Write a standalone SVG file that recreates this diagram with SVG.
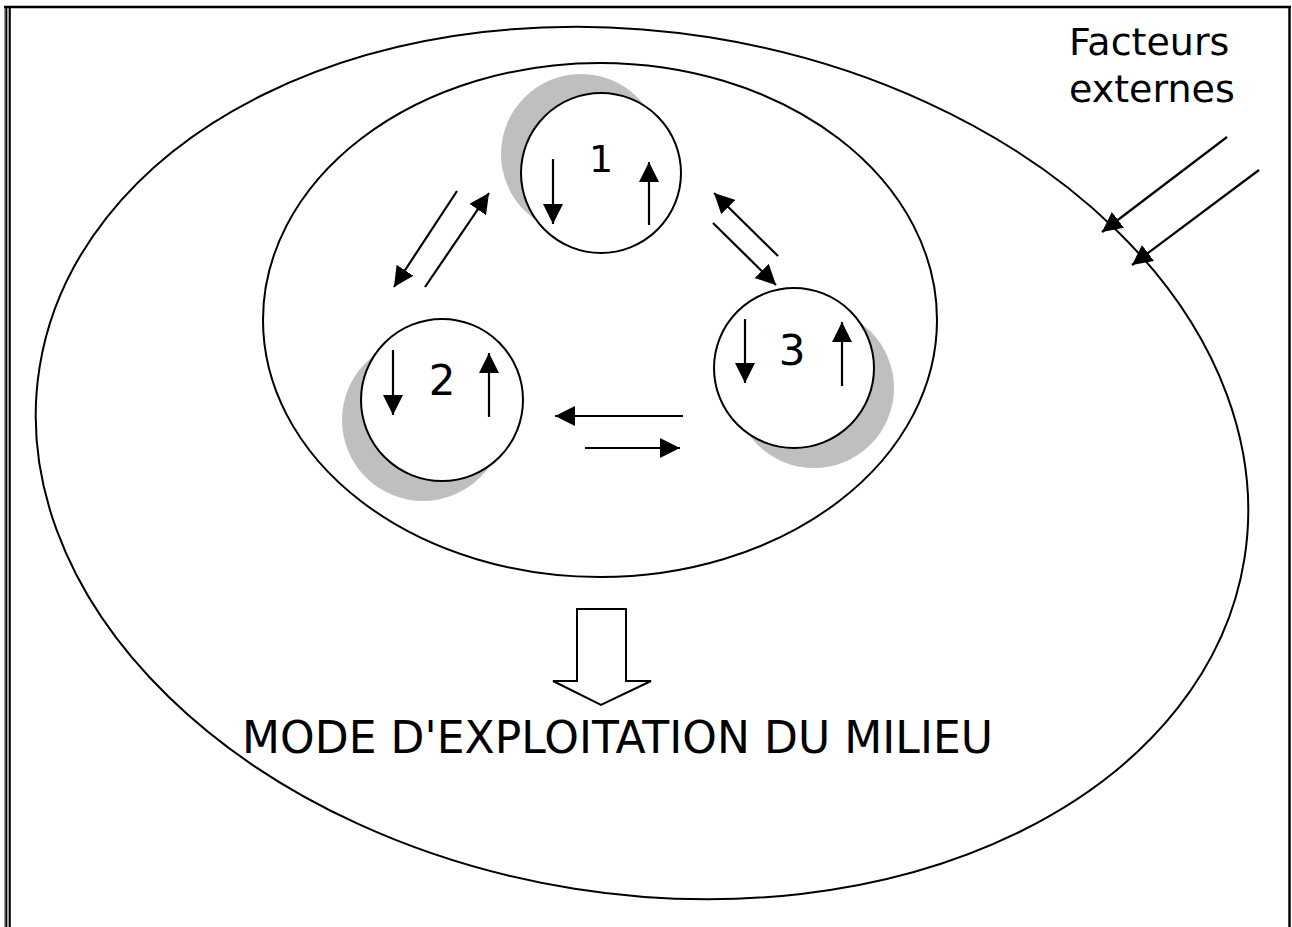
<svg xmlns="http://www.w3.org/2000/svg" width="1292" height="927" viewBox="0 0 1292 927">
<style>
.ln{fill:none;stroke:#000;stroke-width:2}
.arr{fill:none;stroke:#000;stroke-width:2.2;marker-end:url(#ah)}
.shadow{fill:#bfbfbf;stroke:none}
.circ{fill:#fff;stroke:#000;stroke-width:2}
.lbl{font-family:"DejaVu Sans","Verdana",sans-serif;fill:#000}
</style>
<defs>
<marker id="ah" markerUnits="userSpaceOnUse" markerWidth="22" markerHeight="20" refX="20" refY="10" orient="auto">
<path d="M0,0 L20,10 L0,20 z" fill="#000"/>
</marker>
</defs>
<rect width="1292" height="927" fill="#fff"/>
<g id="frame">
<line x1="4.5" y1="7" x2="4.5" y2="927" stroke="#999" stroke-width="1"/>
<line x1="6.3" y1="7" x2="6.3" y2="927" stroke="#000" stroke-width="2"/>
<line x1="8" y1="7" x2="8" y2="927" stroke="#999" stroke-width="1"/>
<line x1="9.8" y1="7" x2="9.8" y2="927" stroke="#000" stroke-width="2"/>
<line x1="4" y1="7" x2="1291" y2="7" stroke="#000" stroke-width="2.5"/>
<line x1="1289.5" y1="6" x2="1289.5" y2="927" stroke="#000" stroke-width="2.5"/>
</g>
<g id="outer">
<ellipse class="ln" cx="642" cy="463" rx="610" ry="431" transform="rotate(9 642 463)"/>
</g>
<g id="inner">
<ellipse class="ln" cx="600" cy="320" rx="337" ry="257"/>
</g>
<g id="node1">
<circle class="shadow" cx="581" cy="154" r="80"/>
<circle class="circ" cx="601" cy="173" r="80"/>
<text class="lbl" x="601" y="172" font-size="38" text-anchor="middle">1</text>
<line class="arr" x1="553" y1="159" x2="553" y2="224"/>
<line class="arr" x1="649" y1="225" x2="649" y2="162"/>
</g>
<g id="node2">
<circle class="shadow" cx="423" cy="420" r="81"/>
<circle class="circ" cx="442" cy="400" r="81"/>
<text class="lbl" x="442" y="395" font-size="42" text-anchor="middle">2</text>
<line class="arr" x1="393" y1="350" x2="393" y2="415"/>
<line class="arr" x1="489" y1="417" x2="489" y2="353"/>
</g>
<g id="node3">
<circle class="shadow" cx="814" cy="388" r="80"/>
<circle class="circ" cx="794" cy="368" r="80"/>
<text class="lbl" x="792" y="365" font-size="42" text-anchor="middle">3</text>
<line class="arr" x1="745" y1="319" x2="745" y2="383"/>
<line class="arr" x1="842" y1="386" x2="842" y2="322"/>
</g>
<g id="connectors">
<line class="arr" x1="457" y1="191" x2="394" y2="287"/>
<line class="arr" x1="425" y1="287" x2="489" y2="193"/>
<line class="arr" x1="778" y1="256" x2="714" y2="193"/>
<line class="arr" x1="713" y1="223" x2="776" y2="285"/>
<line class="arr" x1="683" y1="416" x2="555" y2="416"/>
<line class="arr" x1="585" y1="448" x2="680" y2="448"/>
<line class="arr" x1="1227" y1="137" x2="1102" y2="232"/>
<line class="arr" x1="1259" y1="170" x2="1132" y2="265"/>
</g>
<g id="bigarrow">
<path d="M577,609 L626,609 L626,681 L651,681 L601,705 L553,681 L577,681 Z" fill="#fff" stroke="#000" stroke-width="2"/>
</g>
<g id="labels">
<text class="lbl" x="1069" y="55" font-size="38">Facteurs</text>
<text class="lbl" x="1069" y="102" font-size="38">externes</text>
<text class="lbl" x="242" y="753" font-size="44" textLength="751">MODE D'EXPLOITATION DU MILIEU</text>
</g>
</svg>
